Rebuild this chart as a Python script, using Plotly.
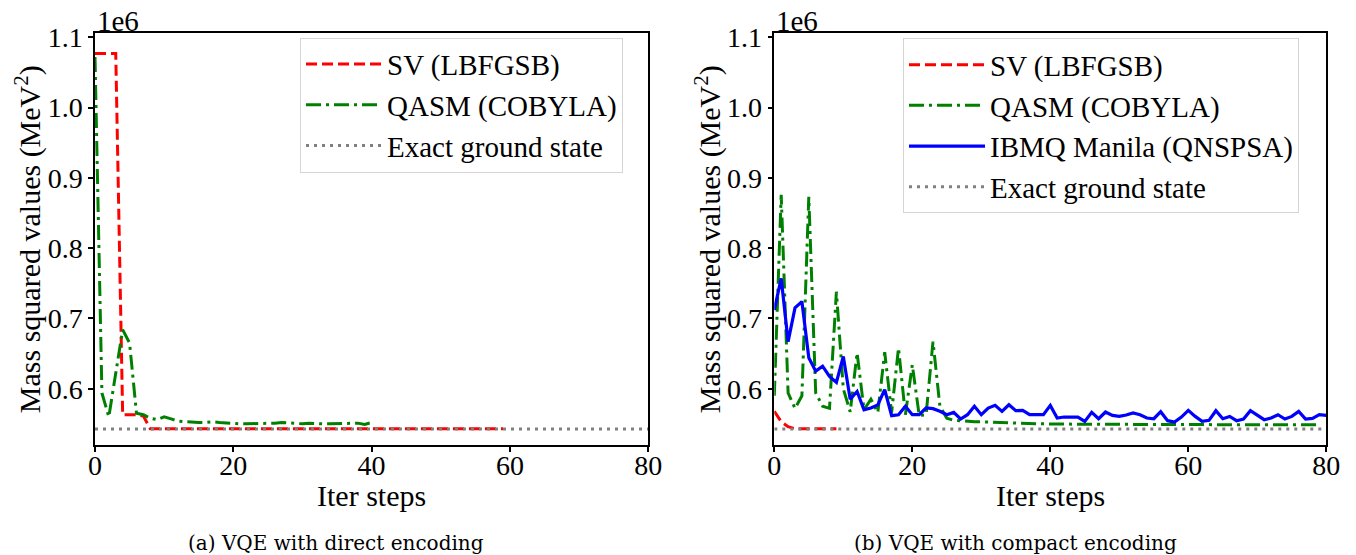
import plotly.graph_objects as go

# ---------------- data (values in units of 1e6 MeV^2) ----------------
sv_a_iter = list(range(60))
sv_a = [1.077, 1.077, 1.077, 1.077, 0.563, 0.563, 0.563, 0.561] + [0.543] * 52

qasm_a_iter = list(range(41))
qasm_a = [1.072, 0.594, 0.560, 0.620, 0.684, 0.665, 0.565, 0.563, 0.558, 0.556,
          0.560, 0.557, 0.554, 0.553, 0.552, 0.552, 0.552, 0.553, 0.552, 0.551,
          0.550, 0.550, 0.550, 0.550, 0.550, 0.550, 0.551, 0.552, 0.551, 0.550,
          0.550, 0.551, 0.550, 0.550, 0.550, 0.550, 0.550, 0.550, 0.551, 0.549,
          0.552]

exact_iter = [0, 80]
exact_val = [0.5427, 0.5427]

sv_b_iter = list(range(10))
sv_b = [0.568, 0.553, 0.546, 0.543, 0.543, 0.543, 0.543, 0.543, 0.543, 0.543]

qasm_b_iter = list(range(80))
qasm_b = [0.590, 0.876, 0.594, 0.572, 0.590, 0.873, 0.594, 0.575, 0.572, 0.738,
          0.600, 0.567, 0.651, 0.570, 0.585, 0.566, 0.652, 0.566, 0.658, 0.563,
          0.634, 0.562, 0.563, 0.667, 0.575, 0.558, 0.555, 0.554, 0.5535, 0.553,
          0.553, 0.5525, 0.552, 0.552, 0.551, 0.551, 0.5505, 0.5502, 0.550, 0.550,
          0.5497, 0.5497, 0.5496, 0.5496, 0.5495, 0.5495, 0.5494, 0.5494, 0.5493, 0.5493,
          0.5492, 0.5492, 0.5491, 0.5491, 0.5491, 0.5490, 0.5490, 0.5490, 0.5490, 0.5490,
          0.5489, 0.5489, 0.5489, 0.5489, 0.5489, 0.5489, 0.5489, 0.5488, 0.5488, 0.5488,
          0.5488, 0.5488, 0.5488, 0.5488, 0.5488, 0.5488, 0.5488, 0.5488, 0.5488, 0.5488]

qn_b_iter = list(range(81))
qn_b = [0.712, 0.757, 0.667, 0.715, 0.724, 0.644, 0.625, 0.632, 0.6175, 0.609,
        0.646, 0.585, 0.596, 0.570, 0.5725, 0.577, 0.5986, 0.5616, 0.563, 0.575,
        0.563, 0.563, 0.5725, 0.5716, 0.5678, 0.563, 0.5663, 0.5569, 0.563, 0.5749,
        0.563, 0.5725, 0.5763, 0.5678, 0.5772, 0.5687, 0.5692, 0.563, 0.563, 0.563,
        0.5763, 0.5583, 0.5597, 0.5597, 0.5597, 0.5535, 0.5663, 0.5573, 0.5668, 0.5621,
        0.5606, 0.5625, 0.5654, 0.563, 0.5583, 0.5573, 0.5673, 0.5545, 0.5526, 0.5597,
        0.5692, 0.5606, 0.5535, 0.555, 0.5687, 0.5573, 0.5606, 0.5545, 0.5569, 0.5687,
        0.5621, 0.5559, 0.5583, 0.563, 0.5569, 0.5606, 0.5678, 0.5569, 0.5578, 0.563,
        0.5621]

x_ticks = [0, 20, 40, 60, 80]
y_ticks = [0.6, 0.7, 0.8, 0.9, 1.0, 1.1]

names = ["SV (LBFGSB)", "QASM (COBYLA)", "IBMQ Manila (QNSPSA)", "Exact ground state"]

# ---------------- styles ----------------
FONT = "Liberation Serif"
W, H = 1356, 555
red_line = dict(color="#ff0000", width=3, dash="11px,5px")
green_line = dict(color="#008000", width=3, dash="15px,5px,3px,5px")
blue_line = dict(color="#0000ff", width=3.2)
gray_line = dict(color="#808080", width=3, dash="3px,5px")

fig = go.Figure()

# left panel
fig.add_trace(go.Scatter(x=sv_a_iter, y=sv_a, mode="lines", line=red_line, name=names[0],
                         xaxis="x", yaxis="y", legend="legend", legendgroup="a1"))
fig.add_trace(go.Scatter(x=qasm_a_iter, y=qasm_a, mode="lines", line=green_line, name=names[1],
                         xaxis="x", yaxis="y", legend="legend", legendgroup="a2"))
fig.add_trace(go.Scatter(x=exact_iter, y=exact_val, mode="lines", line=gray_line, name=names[3],
                         xaxis="x", yaxis="y", legend="legend", legendgroup="a3"))

# right panel
fig.add_trace(go.Scatter(x=sv_b_iter, y=sv_b, mode="lines", line=red_line, name=names[0],
                         xaxis="x2", yaxis="y2", legend="legend2", legendgroup="b1"))
fig.add_trace(go.Scatter(x=qasm_b_iter, y=qasm_b, mode="lines", line=green_line, name=names[1],
                         xaxis="x2", yaxis="y2", legend="legend2", legendgroup="b2"))
fig.add_trace(go.Scatter(x=qn_b_iter, y=qn_b, mode="lines", line=blue_line, name=names[2],
                         xaxis="x2", yaxis="y2", legend="legend2", legendgroup="b3"))
fig.add_trace(go.Scatter(x=exact_iter, y=exact_val, mode="lines", line=gray_line, name=names[3],
                         xaxis="x2", yaxis="y2", legend="legend2", legendgroup="b4"))

ydom = [1 - 445 / H, 1 - 33.3 / H]
xdom1 = [95 / W, 648.2 / W]
xdom2 = [774.3 / W, 1326.3 / W]

axis_common = dict(showline=True, mirror=True, linecolor="black", linewidth=1.5,
                   ticks="outside", ticklen=5, tickwidth=1.5, tickcolor="black",
                   showgrid=False, zeroline=False, automargin=False,
                   tickfont=dict(family=FONT, size=28, color="black"))

legend_common = dict(xanchor="left", yanchor="top", bgcolor="white",
                     bordercolor="#d5d5d5", borderwidth=1,
                     font=dict(family=FONT, size=29), itemwidth=76,
                     tracegroupgap=0, traceorder="grouped")

fig.update_layout(
    template="none",
    width=W, height=H,
    margin=dict(l=0, r=0, t=0, b=0, pad=0, autoexpand=False),
    paper_bgcolor="white", plot_bgcolor="white",
    font=dict(family=FONT, size=29, color="black"),
    xaxis=dict(domain=xdom1, range=[0, 80], tickvals=x_ticks, anchor="y",
               ticklabelstandoff=-10, **axis_common),
    yaxis=dict(domain=ydom, range=[0.5199, 1.1057], tickvals=y_ticks, tickformat=".1f",
               anchor="x", **axis_common),
    xaxis2=dict(domain=xdom2, range=[0, 80], tickvals=x_ticks, anchor="y2",
                ticklabelstandoff=-10, **axis_common),
    yaxis2=dict(domain=ydom, range=[0.5199, 1.1057], tickvals=y_ticks, tickformat=".1f",
                anchor="x2", **axis_common),
    legend=dict(x=300 / W, y=1 - 37.7 / H, entrywidth=250, entrywidthmode="pixels",
                **legend_common),
    legend2=dict(x=903 / W, y=1 - 38.3 / H, entrywidth=322, entrywidthmode="pixels",
                 **legend_common),
)

ann = []
for xd, cx in ((xdom1, (95 + 648.2) / 2), (xdom2, (774.3 + 1326.3) / 2)):
    ann.append(dict(text="1e6", x=xd[0], y=1 - 21 / H, xref="paper", yref="paper",
                    xanchor="left", yanchor="middle", showarrow=False,
                    font=dict(family=FONT, size=29)))
    ann.append(dict(text="Iter steps", x=cx / W, y=1 - 495 / H, xref="paper", yref="paper",
                    xanchor="center", yanchor="middle", showarrow=False,
                    font=dict(family=FONT, size=30)))
for xp in (28, 708):
    ann.append(dict(text="Mass squared values (MeV<sup>2</sup>)", x=xp / W, y=(ydom[0] + ydom[1]) / 2,
                    xref="paper", yref="paper", xanchor="center", yanchor="middle",
                    textangle=-90, showarrow=False, font=dict(family=FONT, size=30)))
ann.append(dict(text="(a) VQE with direct encoding", x=336 / W, y=1 - 543 / H, xref="paper",
                yref="paper", xanchor="center", yanchor="middle", showarrow=False,
                font=dict(family="DejaVu Serif", size=20)))
ann.append(dict(text="(b) VQE with compact encoding", x=1015 / W, y=1 - 543 / H, xref="paper",
                yref="paper", xanchor="center", yanchor="middle", showarrow=False,
                font=dict(family="DejaVu Serif", size=20)))
fig.update_layout(annotations=ann)

fig.write_html("out.html")
